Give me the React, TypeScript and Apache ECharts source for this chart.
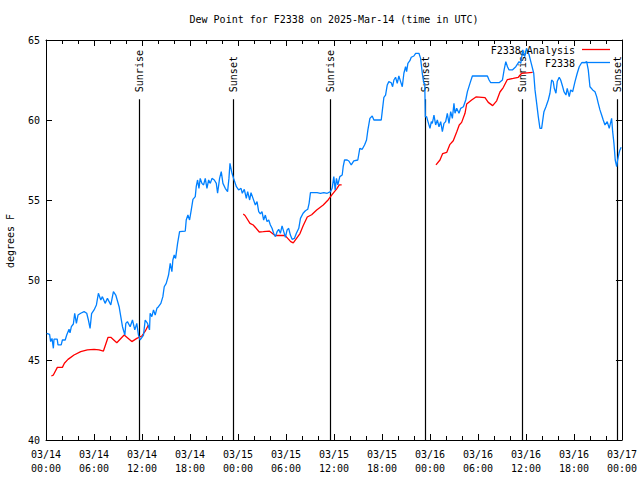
import React, { useEffect, useRef } from "react";
import * as echarts from "echarts";

const TITLE = "Dew Point for F2338 on 2025-Mar-14 (time in UTC)";
const Y_NAME = "degrees F";
const OBS_NAME = "F2338";
const ANA_NAME = "F2338 Analysis";

// x values are hours since 2025-03-14 00:00 UTC
const X_MIN = 0;
const X_MAX = 72;
const X_STEP = 6;
const Y_MIN = 40;
const Y_MAX = 65;
const Y_STEP = 5;

const obsHours = [
  0.08, 0.45, 0.58, 0.75, 0.92, 1.0, 1.4, 1.5, 1.9, 2.05, 2.4, 2.59, 2.88, 3.0, 3.17, 3.42, 3.59, 3.8, 4.0, 4.34,
  4.76, 5.09, 5.3, 5.51, 5.7, 6.01, 6.3, 6.55, 6.85, 7.05, 7.39, 7.68, 8.1, 8.43, 8.72, 9.14, 9.35, 9.56, 9.86, 9.98,
  10.18, 10.52, 10.81, 11.1, 11.35, 11.56, 11.77, 12.19, 12.4, 12.69, 12.94, 13.02, 13.23, 13.44, 13.65, 13.86, 14.06, 14.36, 14.61, 14.78,
  15.03, 15.32, 15.53, 15.74, 15.86, 16.03, 16.2, 16.45, 16.7, 17.41, 17.53, 17.74, 17.95, 18.16, 18.37, 18.66, 18.78, 18.95, 19.12, 19.28,
  19.49, 19.7, 19.91, 20.12, 20.33, 20.54, 20.75, 21.04, 21.29, 21.45, 21.7, 21.91, 22.12, 22.41, 22.7, 22.87, 23.0, 23.25, 23.45, 23.8,
  24.08, 24.38, 24.54, 24.79, 25.04, 25.21, 25.46, 25.63, 25.88, 26.17, 26.38, 26.59, 26.8, 27.0, 27.21, 27.42, 27.63, 27.84, 28.05, 28.26,
  28.46, 28.68, 28.89, 29.09, 29.3, 29.51, 29.72, 29.93, 30.14, 30.34, 30.55, 30.77, 31.05, 31.3, 31.6, 31.81, 32.14, 32.43, 32.72, 32.89,
  33.06, 33.89, 34.31, 34.73, 35.15, 35.56, 35.77, 35.98, 36.15, 36.31, 36.48, 36.73, 37.03, 37.15, 37.32, 37.65, 37.86, 38.16, 38.48, 38.98,
  39.23, 39.53, 39.82, 40.07, 40.24, 40.49, 40.78, 40.99, 41.91, 42.03, 42.24, 42.45, 42.66, 42.86, 43.16, 43.33, 43.49, 43.7, 43.91, 44.11,
  44.33, 44.54, 44.74, 44.95, 45.08, 45.24, 45.49, 45.66, 45.99, 46.21, 46.62, 46.83, 47.04, 47.24, 47.35, 47.42, 47.58, 47.75, 48.0, 48.17,
  48.29, 48.42, 48.5, 48.71, 48.92, 49.13, 49.34, 49.55, 49.75, 49.96, 50.17, 50.38, 50.59, 50.8, 51.0, 51.13, 51.34, 51.63, 51.84, 52.18,
  52.47, 52.68, 53.0, 53.3, 55.18, 55.39, 55.6, 56.64, 57.06, 57.27, 57.48, 57.69, 57.89, 58.3, 58.73, 59.14, 59.35, 59.6, 59.85, 60.07,
  60.4, 60.71, 60.97, 61.13, 61.34, 61.54, 61.75, 61.96, 62.16, 62.25, 62.5, 62.79, 63.0, 63.21, 63.41, 63.54, 63.75, 63.91, 64.16, 64.34,
  64.59, 64.75, 65.0, 65.16, 65.41, 65.59, 65.84, 66.13, 66.41, 66.66, 66.96, 67.38, 67.59, 67.79, 68.0, 68.34, 68.63, 68.84, 69.04, 69.25,
  69.46, 69.66, 69.88, 70.16, 70.41, 70.71, 70.84, 71.0, 71.16, 71.34, 71.46, 71.63, 71.75, 71.9,
];
const obsValues = [
  46.67, 46.6, 46.15, 46.35, 45.73, 46.3, 46.3, 45.94, 45.94, 46.25, 46.25, 46.56, 46.92, 46.7, 47.08, 47.25, 47.92, 47.29, 47.81, 47.92,
  48.02, 47.92, 47.5, 46.98, 47.9, 48.13, 48.44, 49.17, 48.75, 48.96, 48.54, 48.85, 48.44, 49.27, 49.06, 48.33, 47.71, 47.08, 46.56, 47.29,
  47.4, 47.08, 47.5, 46.88, 47.29, 46.56, 46.25, 46.56, 47.5, 47.29, 46.88, 47.92, 47.71, 48.13, 47.81, 48.23, 48.33, 48.54, 48.96, 49.58,
  49.79, 50.31, 51.04, 50.52, 51.25, 51.56, 51.35, 52.29, 53.02, 53.06, 53.75, 54.06, 53.75, 54.38, 55.04, 55.21, 55.83, 56.25, 55.73, 56.35,
  56.04, 55.94, 56.35, 55.73, 56.25, 56.04, 56.35, 56.25, 56.04, 55.42, 56.35, 56.77, 56.04, 55.73, 55.52, 56.35, 57.29, 56.67, 56.35, 55.83,
  55.63, 55.73, 55.42, 55.67, 55.1, 55.52, 55.0, 55.46, 55.1, 54.69, 54.9, 54.27, 54.13, 54.27, 53.75, 54.06, 53.65, 53.75, 53.44, 53.23,
  52.92, 52.71, 53.02, 53.17, 52.92, 53.38, 53.02, 52.67, 53.13, 53.23, 52.81, 52.54, 52.6, 52.92, 53.23, 53.85, 54.17, 54.33, 54.42, 54.79,
  55.46, 55.46, 55.42, 55.46, 55.42, 55.52, 55.73, 56.46, 55.63, 56.35, 55.94, 56.46, 56.56, 57.08, 57.5, 57.5, 57.44, 57.19, 57.44, 57.5,
  58.23, 58.17, 58.44, 58.75, 59.38, 60.1, 60.25, 60.0, 60.0, 60.52, 61.42, 61.56, 62.19, 62.4, 62.33, 62.08, 62.5, 62.67, 62.29, 62.75,
  62.4, 62.08, 62.92, 63.33, 63.02, 63.54, 63.71, 63.92, 64.0, 64.17, 64.17, 63.85, 62.92, 62.29, 62.3, 60.2, 60.21, 59.9, 59.48, 59.9,
  59.79, 60.1, 60.31, 59.69, 60.0, 59.58, 59.9, 59.27, 59.79, 59.9, 60.42, 59.79, 60.52, 60.1, 61.04, 60.42, 60.73, 60.42, 60.73, 60.83,
  61.25, 61.77, 62.29, 62.75, 62.75, 62.5, 62.33, 62.33, 62.5, 63.13, 63.65, 63.33, 63.13, 63.13, 63.33, 63.65, 63.54, 64.38, 63.96, 64.48,
  64.06, 63.44, 62.92, 61.88, 61.04, 60.21, 59.48, 59.48, 60.21, 60.52, 60.83, 61.25, 61.67, 62.5, 62.4, 61.98, 61.67, 62.4, 62.67, 62.5,
  62.08, 61.77, 61.56, 61.98, 61.46, 61.88, 61.77, 62.4, 62.92, 63.33, 63.58, 63.58, 63.65, 63.13, 62.08, 61.88, 61.77, 61.46, 61.04, 60.63,
  60.31, 60.0, 59.69, 59.9, 59.48, 60.1, 59.27, 58.54, 57.5, 57.08, 57.5, 57.92, 58.13, 58.3,
];

// null marks a gap in the analysis series
const anaHours = [
  0.67, 0.9, 1.42, 2.05, 2.3, 2.75, 3.5, 4.34, 5.17, 6.01, 6.64, 7.18, 7.76, 8.1, 8.85, 9.77, 10.73, 11.35, 11.98, 12.4, 12.8,
  18.0,
  24.66, 24.88, 25.5, 25.91, 26.66, 27.16, 27.91, 28.63, 29.88, 30.59, 30.91, 31.75, 32.16, 32.66, 33.21, 33.84, 34.66, 35.29, 35.71, 36.34, 36.66, 36.96,
  42.0,
  48.75, 49.25, 49.59, 50.09, 50.5, 50.91, 51.34, 51.66, 51.96, 52.38, 52.59, 53.21, 53.75, 54.88, 55.29, 55.84, 56.34, 56.75, 57.16, 57.66, 58.41, 59.04, 59.46, 60.84,
];
const anaValues = [
  44.0, 44.05, 44.54, 44.54, 44.8, 45.04, 45.31, 45.52, 45.63, 45.67, 45.63, 45.56, 46.42, 46.42, 46.08, 46.56, 46.15, 46.35, 46.5, 46.8, 47.19,
  null,
  54.12, 54.03, 53.54, 53.44, 53.0, 53.02, 53.06, 52.78, 52.79, 52.4, 52.32, 52.9, 53.4, 53.94, 54.08, 54.38, 54.69, 55.02, 55.3, 55.7, 55.94, 55.94,
  null,
  57.19, 57.5, 57.9, 57.97, 58.48, 58.7, 59.25, 59.69, 59.85, 60.42, 61.0, 61.25, 61.44, 61.4, 61.1, 60.9, 61.2, 61.75, 62.03, 62.52, 62.6, 62.67, 62.92, 62.98,
];

const sunHours = [11.7, 23.42, 35.6, 47.45, 59.6, 71.47];
const sunLabels = ["Sunrise", "Sunset", "Sunrise", "Sunset", "Sunrise", "Sunset"];
const SUN_LINE_TOP = 61.3;

const FONT_FAMILY = '"DejaVu Sans Mono", "Liberation Mono", monospace';
const FONT = '10px "DejaVu Sans Mono", "Liberation Mono", monospace';
const OBS_COLOR = "#0080ff";
const ANA_COLOR = "#ff0000";

function xLabel(v: number): string {
  const day = 14 + Math.floor(v / 24);
  const hh = v % 24;
  return `03/${day}\n${String(hh).padStart(2, "0")}:00`;
}

export default function App() {
  const ref = useRef<HTMLDivElement>(null);
  useEffect(() => {
    if (!ref.current) return;
    const chart = echarts.init(ref.current, undefined, { renderer: "svg" });
    const axisBase = {
      type: "value" as const,
      axisLine: { show: true, onZero: false, lineStyle: { color: "#000", width: 1 } },
      splitLine: { show: false },
    };
    const option: any = {
      animation: false,
      backgroundColor: "#fff",
      grid: { left: 46, right: 18, top: 40, bottom: 40, containLabel: false },
      xAxis: [
        {
          ...axisBase,
          min: X_MIN,
          max: X_MAX,
          interval: X_STEP,
          position: "bottom",
          axisTick: { show: true, inside: true, length: 6, lineStyle: { color: "#000" } },
          minorTick: { show: true, splitNumber: 3, length: 4, lineStyle: { color: "#000" } },
          axisLabel: {
            show: true,
            margin: 7,
            color: "#000",
            fontFamily: FONT_FAMILY,
            fontSize: 10,
            lineHeight: 14,
            formatter: xLabel,
          },
        },
        {
          ...axisBase,
          min: X_MIN,
          max: X_MAX,
          interval: X_STEP,
          position: "top",
          axisTick: { show: true, inside: true, length: 6, lineStyle: { color: "#000" } },
          minorTick: { show: true, splitNumber: 3, length: 4, lineStyle: { color: "#000" } },
          axisLabel: { show: false },
        },
      ],
      yAxis: [
        {
          ...axisBase,
          min: Y_MIN,
          max: Y_MAX,
          interval: Y_STEP,
          position: "left",
          axisTick: { show: true, inside: true, length: 6, lineStyle: { color: "#000" } },
          axisLabel: { show: true, margin: 6, color: "#000", fontFamily: FONT_FAMILY, fontSize: 10 },
        },
        {
          ...axisBase,
          min: Y_MIN,
          max: Y_MAX,
          interval: Y_STEP,
          position: "right",
          axisTick: { show: true, inside: true, length: 6, lineStyle: { color: "#000" } },
          axisLabel: { show: false },
        },
      ],
      graphic: [
        {
          type: "text",
          x: 334,
          y: 19,
          style: { text: TITLE, font: FONT, fill: "#000", textAlign: "center", textVerticalAlign: "middle", align: "center", verticalAlign: "middle" },
        },
        {
          type: "text",
          x: 10,
          y: 241,
          rotation: Math.PI / 2,
          style: { text: Y_NAME, font: FONT, fill: "#000", textAlign: "center", textVerticalAlign: "middle", align: "center", verticalAlign: "middle" },
        },
        {
          type: "text",
          x: 575,
          y: 50,
          z: 100,
          style: { text: ANA_NAME, font: FONT, fill: "#000", textAlign: "right", textVerticalAlign: "middle", align: "right", verticalAlign: "middle" },
        },
        {
          type: "line",
          z: 100,
          shape: { x1: 582, y1: 49.5, x2: 610, y2: 49.5 },
          style: { stroke: ANA_COLOR, lineWidth: 1.3 },
        },
        {
          type: "text",
          x: 575,
          y: 63,
          z: 100,
          style: { text: OBS_NAME, font: FONT, fill: "#000", textAlign: "right", textVerticalAlign: "middle", align: "right", verticalAlign: "middle" },
        },
        {
          type: "line",
          z: 100,
          shape: { x1: 582, y1: 62.5, x2: 610, y2: 62.5 },
          style: { stroke: OBS_COLOR, lineWidth: 1.3 },
        },
      ],
      series: [
        {
          type: "custom",
          name: "sun",
          xAxisIndex: 0,
          yAxisIndex: 0,
          clip: false,
          silent: true,
          data: sunHours.map((h) => [h, Y_MIN]),
          renderItem: (params: any, api: any) => {
            const x = api.value(0);
            const p0 = api.coord([x, Y_MIN]);
            const p1 = api.coord([x, SUN_LINE_TOP]);
            const lx = Math.floor(p0[0]) + 0.5;
            return {
              type: "group",
              children: [
                {
                  type: "line",
                  shape: { x1: lx, y1: p0[1], x2: lx, y2: p1[1] },
                  style: { stroke: "#000", lineWidth: 1.2 },
                },
                {
                  type: "text",
                  x: lx,
                  y: p1[1] - 7,
                  rotation: Math.PI / 2,
                  style: {
                    text: sunLabels[params.dataIndex],
                    font: FONT,
                    fill: "#000",
                    textAlign: "left",
                    textVerticalAlign: "middle",
                    align: "left",
                    verticalAlign: "middle",
                  },
                },
              ],
            };
          },
        },
        {
          type: "line",
          name: ANA_NAME,
          data: anaHours.map((h, i) => [h, anaValues[i] === null ? "-" : anaValues[i]]),
          showSymbol: false,
          connectNulls: false,
          lineStyle: { color: ANA_COLOR, width: 1.3 },
          itemStyle: { color: ANA_COLOR },
        },
        {
          type: "line",
          name: OBS_NAME,
          data: obsHours.map((h, i) => [h, obsValues[i]]),
          showSymbol: false,
          lineStyle: { color: OBS_COLOR, width: 1.3 },
          itemStyle: { color: OBS_COLOR },
        },
      ],
    };
    chart.setOption(option);
    return () => chart.dispose();
  }, []);
  return <div ref={ref} style={{ width: 640, height: 480, position: "absolute", left: 0, top: 0 }} />;
}
